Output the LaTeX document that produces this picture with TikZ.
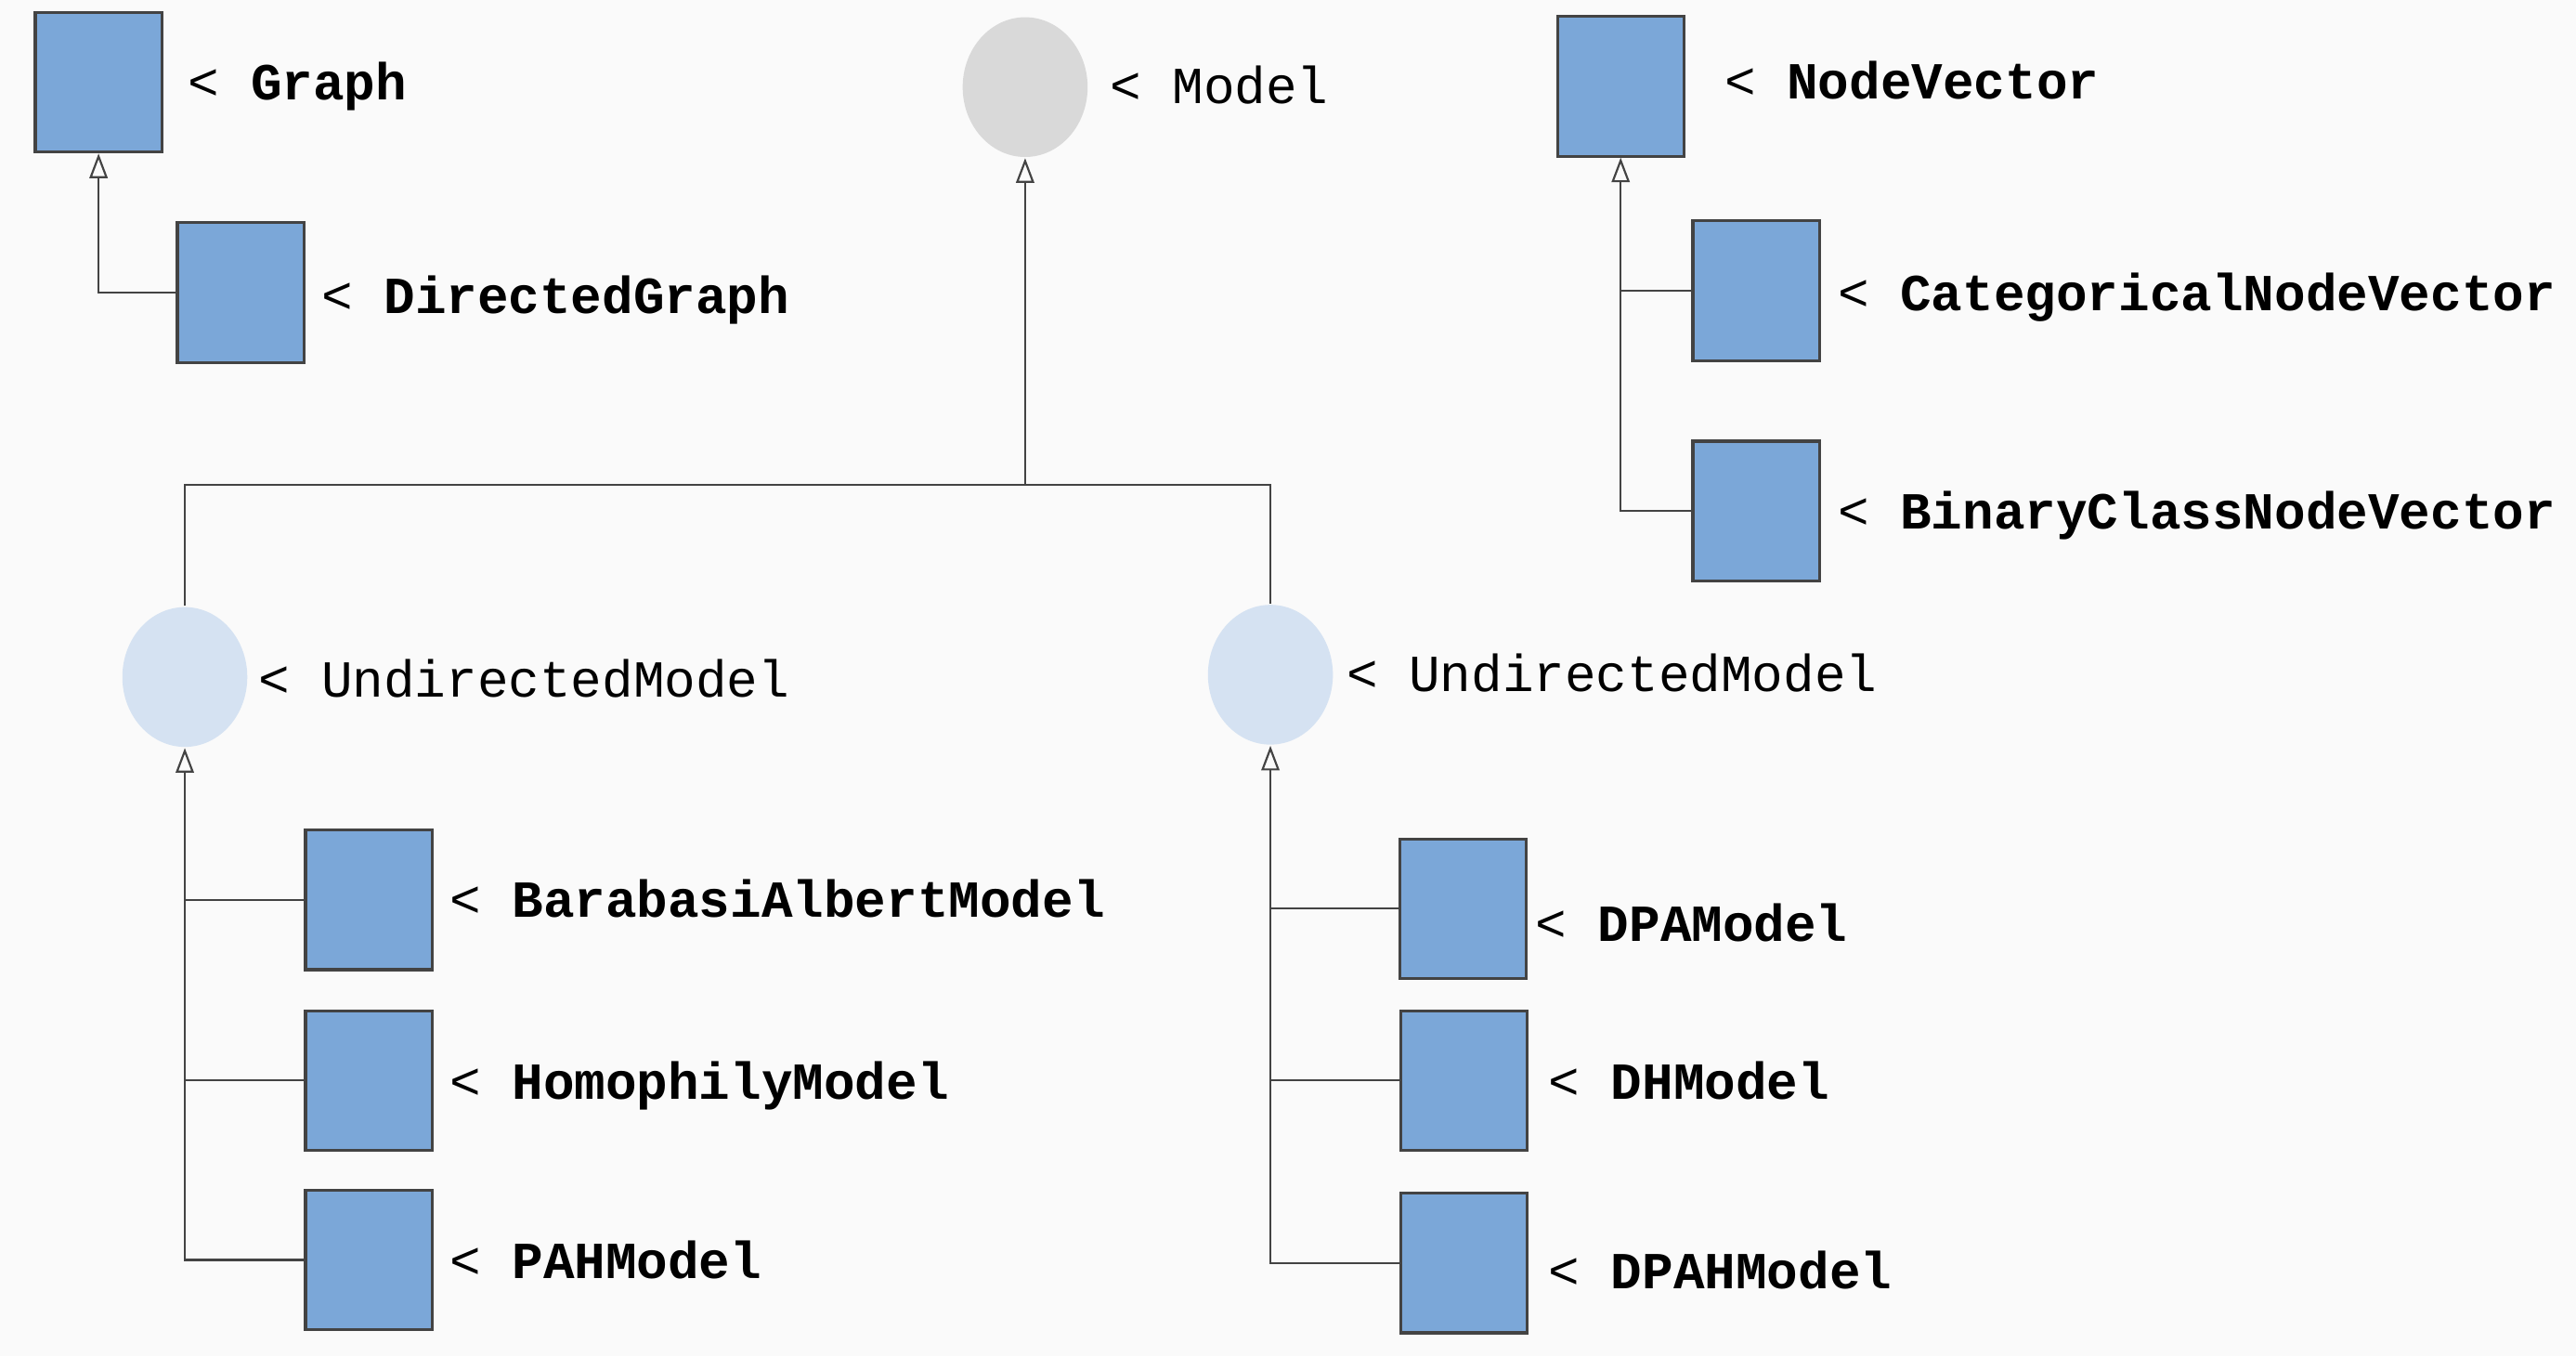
\documentclass[tikz,border=0pt]{standalone}
\usepackage{fontspec}
\setmonofont{Liberation Mono}
\usetikzlibrary{shapes.geometric, arrows.meta}

\definecolor{bgcol}{HTML}{FAFAFA}
\definecolor{clsblue}{HTML}{7BA7D8}
\definecolor{edgegrey}{HTML}{434343}
\definecolor{modelgrey}{HTML}{D9D9D9}
\definecolor{undirblue}{HTML}{D5E2F2}

\begin{document}
\begin{tikzpicture}[x=0.01cm, y=-0.01cm,
        cls/.style = {draw=edgegrey, line width=0.5pt, fill=clsblue, minimum width=0.77cm, minimum height=0.85cm, inner sep=0},
        absnode/.style = {ellipse, minimum width=0.76cm, minimum height=0.85cm, inner sep=0},
        lbl/.style = {anchor=base west, inner sep=0, font=\fontsize{9}{11}\selectfont\ttfamily},
        inherit/.style = {draw=edgegrey, line width=0.35pt},
        >={Triangle[open, length=1.5mm, width=1.1mm]}]
                \fill[bgcol] (0,0) rectangle (1568,825.3);

                \node[cls] at (60,50) (graph) {};
                \node[cls] at (146.5,178) (dgraph) {};
                \node[absnode, fill=modelgrey] at (624,53) (model) {};
                \node[cls] at (986.5,52.5) (nvec) {};
                \node[cls] at (1069,177) (catvec) {};
                \node[cls] at (1069,311) (binvec) {};
                \node[absnode, fill=undirblue] at (112.5,412) (undirA) {};
                \node[absnode, fill=undirblue] at (773.3,410.6) (undirB) {};
                \node[cls] at (224.5,547.6) (ba) {};
                \node[cls] at (224.5,657.6) (homo) {};
                \node[cls] at (224.5,766.8) (pah) {};
                \node[cls] at (890.5,553) (dpa) {};
                \node[cls] at (891,657.6) (dh) {};
                \node[cls] at (891,768.6) (dpah) {};

                \node[lbl] at (114,61) (graphlbl) {< \textbf{Graph}};
                \node[lbl] at (195,191) (dgraphlbl) {< \textbf{DirectedGraph}};
                \node[lbl] at (675,63) (modellbl) {< Model};
                \node[lbl] at (1049,60) (nveclbl) {< \textbf{NodeVector}};
                \node[lbl] at (1118,189) (catveclbl) {< \textbf{CategoricalNodeVector}};
                \node[lbl] at (1118,322) (binveclbl) {< \textbf{BinaryClassNodeVector}};
                \node[lbl] at (157,424) (undirAlbl) {< UndirectedModel};
                \node[lbl] at (819,421) (undirBlbl) {< UndirectedModel};
                \node[lbl] at (273,558) (balbl) {< \textbf{BarabasiAlbertModel}};
                \node[lbl] at (273,669) (homolbl) {< \textbf{HomophilyModel}};
                \node[lbl] at (273,778) (pahlbl) {< \textbf{PAHModel}};
                \node[lbl] at (934,573) (dpalbl) {< \textbf{DPAModel}};
                \node[lbl] at (942,669) (dhlbl) {< \textbf{DHModel}};
                \node[lbl] at (942,784) (dpahlbl) {< \textbf{DPAHModel}};

                \coordinate (fork) at (624,295);

                \draw [inherit, ->] (dgraph.west) -| (graph.south);

                \draw [inherit] (undirA.north) |- (fork) -| (undirB.north);
                \draw [inherit, ->] (fork) -- (model.south);

                \draw [inherit, ->] (binvec.west) -| (nvec.south);
                \draw [inherit] (catvec.west) -- (catvec.west -| nvec.south);

                \draw [inherit, ->] (pah.west) -| (undirA.south);
                \draw [inherit] (ba.west) -- (ba.west -| undirA.south);
                \draw [inherit] (homo.west) -- (homo.west -| undirA.south);

                \draw [inherit, ->] (dpah.west) -| (undirB.south);
                \draw [inherit] (dpa.west) -- (dpa.west -| undirB.south);
                \draw [inherit] (dh.west) -- (dh.west -| undirB.south);
            \end{tikzpicture}
\end{document}
